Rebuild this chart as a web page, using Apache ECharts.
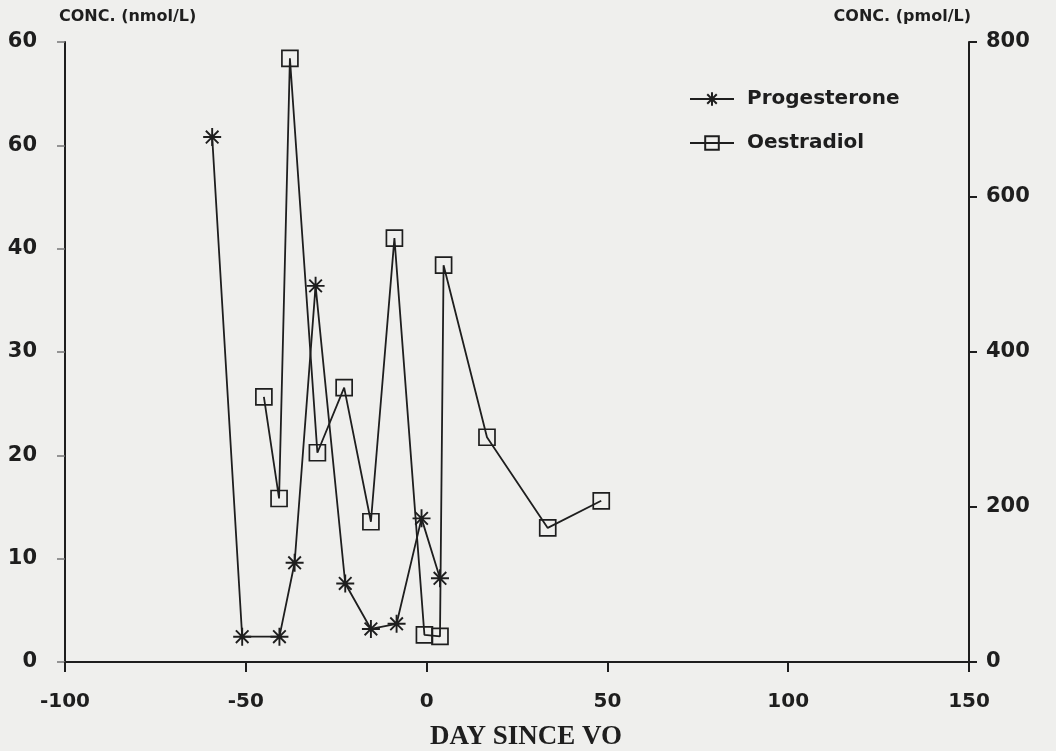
<!DOCTYPE html>
<html>
<head>
<meta charset="utf-8">
<script src="https://cdn.jsdelivr.net/npm/echarts@6/dist/echarts.min.js"></script>
<style>
html,body{margin:0;padding:0;background:#efefed;}
#chart{width:1056px;height:751px;}
</style>
</head>
<body>
<div id="chart"></div>
<script>
// Data
var progDays   = [-59.3, -51.0, -40.7, -36.5, -30.7, -22.5, -15.4, -8.3, -1.4, 3.7];
var progValues = [50.8, 2.45, 2.45, 9.6, 36.4, 7.6, 3.2, 3.7, 13.9, 8.1];   // nmol/L
var oestDays   = [-45.0, -40.8, -37.8, -30.2, -22.8, -15.4, -8.9, -0.6, 3.7, 4.7, 16.7, 33.5, 48.3];
var oestValues = [342, 211, 779, 270, 354, 181, 547, 35, 33, 512, 290, 173, 208]; // pmol/L
var leftTickLabels  = {0:'0', 10:'10', 20:'20', 30:'30', 40:'40', 50:'60', 60:'60'};
var rightTickLabels = {0:'0', 200:'200', 400:'400', 600:'600', 800:'800'};
var xTickLabels     = {'-100':'-100', '-50':'-50', '0':'0', '50':'50', '100':'100', '150':'150'};

function pairs(xs, ys){ return xs.map(function(x,i){ return [x, ys[i]]; }); }

var ink = '#1e1e1e';
var asterisk = 'path://M0,10 L20,10 M10,0 L10,20 M3,3 L17,17 M17,3 L3,17';

var chart = echarts.init(document.getElementById('chart'));
chart.setOption({
  backgroundColor: '#efefed',
  animation: false,
  grid: {left: 65, right: 87, top: 42, bottom: 89, containLabel: false, outerBoundsMode: 'none'},
  legend: {
    left: 684, top: 84, orient: 'vertical', itemGap: 24,
    itemWidth: 44, itemHeight: 17,
    textStyle: {fontFamily: 'DejaVu Sans', fontWeight: 'bold', fontSize: 20, color: ink, padding: [0,0,0,8]},
    data: ['Progesterone', 'Oestradiol']
  },
  xAxis: {
    type: 'value', min: -100, max: 150, interval: 50,
    name: 'DAY SINCE VO', nameLocation: 'middle', nameGap: 62,
    nameTextStyle: {fontFamily: 'Liberation Serif', fontWeight: 'bold', fontSize: 27, color: ink, padding: [0,0,0,18]},
    axisLine: {show: true, lineStyle: {color: ink, width: 2}},
    axisTick: {show: true, length: 10, lineStyle: {color: ink, width: 2}},
    axisLabel: {margin: 30, fontFamily: 'DejaVu Sans', fontWeight: 'bold', fontSize: 20, color: ink,
      formatter: function(v){ return xTickLabels[String(v)]; }},
    splitLine: {show: false}
  },
  yAxis: [{
    type: 'value', min: 0, max: 60, interval: 10, position: 'left',
    name: 'CONC. (nmol/L)', nameLocation: 'end', nameGap: 17,
    nameTextStyle: {fontFamily: 'DejaVu Sans', fontWeight: 'bold', fontSize: 16, color: ink, align: 'left', padding: [0,0,0,-6]},
    axisLine: {show: true, onZero: false, lineStyle: {color: ink, width: 2}},
    axisTick: {show: true, length: 8, lineStyle: {color: '#777', width: 1.5}},
    axisLabel: {margin: 28, fontFamily: 'DejaVu Sans', fontWeight: 'bold', fontSize: 21, color: ink,
      formatter: function(v){ return leftTickLabels[v]; }},
    splitLine: {show: false}
  }, {
    type: 'value', min: 0, max: 800, interval: 200, position: 'right',
    name: 'CONC. (pmol/L)', nameLocation: 'end', nameGap: 17,
    nameTextStyle: {fontFamily: 'DejaVu Sans', fontWeight: 'bold', fontSize: 16, color: ink, align: 'right', padding: [0,-2,0,0]},
    axisLine: {show: true, onZero: false, lineStyle: {color: ink, width: 2}},
    axisTick: {show: true, length: 8, lineStyle: {color: ink, width: 2}},
    axisLabel: {margin: 17, fontFamily: 'DejaVu Sans', fontWeight: 'bold', fontSize: 21, color: ink,
      formatter: function(v){ return rightTickLabels[v]; }},
    splitLine: {show: false}
  }],
  series: [{
    name: 'Progesterone', type: 'line', yAxisIndex: 0,
    data: pairs(progDays, progValues),
    symbol: asterisk, symbolSize: 18, showAllSymbol: true,
    lineStyle: {color: ink, width: 1.8},
    itemStyle: {color: 'rgba(0,0,0,0)', borderColor: ink, borderWidth: 1.9},
    z: 3
  }, {
    name: 'Oestradiol', type: 'line', yAxisIndex: 1,
    data: pairs(oestDays, oestValues),
    symbol: 'rect', symbolSize: 16, showAllSymbol: true,
    lineStyle: {color: ink, width: 1.8},
    itemStyle: {color: 'rgba(0,0,0,0)', borderColor: ink, borderWidth: 1.7},
    z: 2
  }]
});
</script>
</body>
</html>
